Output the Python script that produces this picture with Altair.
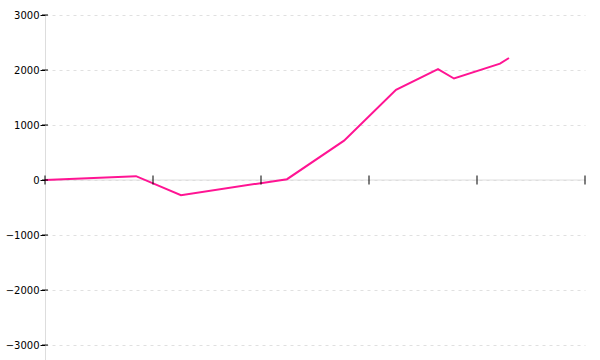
import altair as alt
import pandas as pd

# series (x in tick units, 5 intervals across the axis)
x_vals = [0.0, 0.843, 1.259, 2.241, 2.769, 3.25, 3.639, 3.787, 4.213, 4.296]
y_vals = [0, 70, -275, 15, 715, 1640, 2015, 1845, 2115, 2218]

x_ticks = [0, 1, 2, 3, 4, 5]
y_ticks = [-3000, -2000, -1000, 0, 1000, 2000, 3000]

df = pd.DataFrame({"x": x_vals, "y": y_vals})
xt = pd.DataFrame({"x": x_ticks})
yt = pd.DataFrame({"y": y_ticks})

xs = alt.Scale(domain=[0, 5], nice=False, zero=False)
ys = alt.Scale(domain=[-3272, 3000], nice=False, zero=False)

zero_rule = alt.Chart(pd.DataFrame({"y": [0]})).mark_rule(color="#dddddd", strokeWidth=1).encode(
    y=alt.Y("y:Q", scale=ys)
)

line = alt.Chart(df).mark_line(color="#ff1493", strokeWidth=2).encode(
    x=alt.X("x:Q", scale=xs, axis=None),
    y=alt.Y(
        "y:Q",
        scale=ys,
        title=None,
        axis=alt.Axis(
            values=y_ticks,
            format="d",
            grid=True,
            gridColor="#e0e0e0",
            gridDash=[3, 4],
            domainColor="#dddddd",
            tickColor="#000000",
            tickSize=5,
            labelPadding=1,
            labelFont="DejaVu Sans",
            labelFontSize=10,
            labelColor="#000000",
        ),
    ),
)

x_tick_marks = alt.Chart(xt).mark_tick(orient="vertical", size=9, thickness=1, color="#000000", opacity=1).encode(
    x=alt.X("x:Q", scale=xs, axis=None),
    y=alt.datum(0, scale=ys),
)

y_tick_marks = alt.Chart(yt).mark_tick(orient="horizontal", size=6, thickness=1, color="#000000", opacity=1).encode(
    x=alt.datum(0),
    y=alt.Y("y:Q", scale=ys),
)

chart = (
    alt.layer(zero_rule, line, x_tick_marks, y_tick_marks)
    .properties(
        width=540,
        height=345,
        autosize=alt.AutoSizeParams(type="none"),
        padding={"left": 45, "top": 15, "right": 15, "bottom": 0},
    )
    .configure_view(stroke=None)
)

chart.save("out.html", embed_options={"renderer": "svg", "actions": False})
